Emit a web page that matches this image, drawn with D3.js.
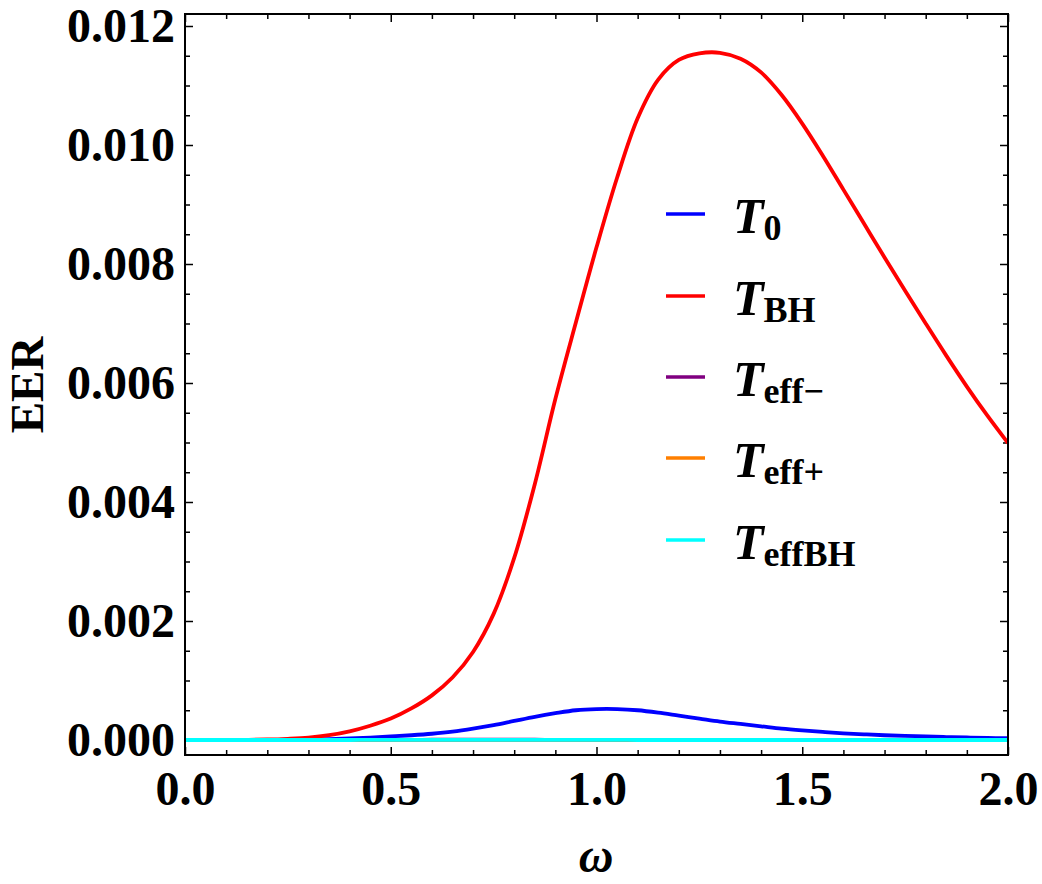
<!DOCTYPE html>
<html>
<head>
<meta charset="utf-8">
<script src="https://cdn.jsdelivr.net/npm/d3@7"></script>
<style>
  body { margin: 0; background: #fff; }
  svg { display: block; }
  .tick text { font-family: "Liberation Serif", "Times New Roman", serif; font-weight: bold; font-size: 48px; fill: #000; }
  .tick line { stroke: #000; stroke-width: 1.5; }
</style>
</head>
<body>
<div id="chart"></div>
<script>
// omega grid and the curves
const omega = [0, 0.05, 0.1, 0.15, 0.2, 0.25, 0.3, 0.35, 0.4, 0.45, 0.5, 0.55, 0.6, 0.65, 0.7, 0.75, 0.8, 0.85, 0.9, 0.95,
  1.0, 1.05, 1.1, 1.15, 1.2, 1.25, 1.3, 1.35, 1.4, 1.45, 1.5, 1.55, 1.6, 1.65, 1.7, 1.75, 1.8, 1.85, 1.9, 1.95, 2.0];

const eer_T0 = [0, 0, 0, 0.000001, 0.000002, 0.000004, 0.000008, 0.000015, 0.000025, 0.00004, 0.00006, 0.00008, 0.000105, 0.00014, 0.00019, 0.00025, 0.00032, 0.00039, 0.00045, 0.0005,
  0.00052, 0.00052, 0.0005, 0.00046, 0.00041, 0.00036, 0.00031, 0.00027, 0.00023, 0.00019, 0.00016, 0.000135, 0.000112, 0.000095, 0.00008, 0.00007, 0.00006, 0.00005, 0.000042, 0.000035, 0.00003];

const eer_TBH = [0, 0, 0.000001, 0.000003, 0.000008, 0.00002, 0.00004, 0.00008, 0.000145, 0.00024, 0.00036, 0.00053, 0.00075, 0.00105, 0.00148, 0.00212, 0.00306, 0.0043, 0.00573, 0.00702,
  0.00828, 0.00945, 0.01045, 0.0111, 0.01143, 0.01154, 0.01155, 0.01145, 0.01122, 0.01084, 0.01036, 0.00982, 0.00925, 0.00868, 0.00811, 0.00755, 0.007, 0.00646, 0.00594, 0.00545, 0.00499];

const eer_Teffm = [0, 0, 0, 0, 0, 0, 0.000001, 0.000001, 0.000002, 0.000002, 0.000003, 0.000003, 0.000004, 0.000004, 0.000004, 0.000004, 0.000004, 0.000004, 0.000003, 0.000003,
  0.000003, 0.000002, 0.000002, 0.000002, 0.000001, 0.000001, 0.000001, 0.000001, 0.000001, 0, 0, 0, 0, 0, 0, 0, 0, 0, 0, 0, 0];

const eer_Teffp = [0, 0, 0, 0, 0, 0, 0, 0.000001, 0.000001, 0.000001, 0.000002, 0.000002, 0.000002, 0.000002, 0.000002, 0.000002, 0.000002, 0.000002, 0.000002, 0.000001,
  0.000001, 0.000001, 0.000001, 0.000001, 0, 0, 0, 0, 0, 0, 0, 0, 0, 0, 0, 0, 0, 0, 0, 0, 0];

const eer_TeffBH = [0, 0, 0, 0, 0, 0, 0, 0, 0, 0.000001, 0.000001, 0.000001, 0.000001, 0.000001, 0.000001, 0.000001, 0.000001, 0.000001, 0.000001, 0.000001,
  0.000001, 0.000001, 0, 0, 0, 0, 0, 0, 0, 0, 0, 0, 0, 0, 0, 0, 0, 0, 0, 0, 0];

const seriesNames = ["T0", "TBH", "Teff-", "Teff+", "TeffBH"];
const seriesColors = ["#0000ff", "#ff0000", "#800080", "#ff7f00", "#00ffff"];
const seriesValues = [eer_T0, eer_TBH, eer_Teffm, eer_Teffp, eer_TeffBH];
// legend labels: main letter + subscript
const legendSubs = ["0", "BH", "eff\u2212", "eff+", "effBH"];

const xMajor = [0, 0.5, 1.0, 1.5, 2.0];
const yMajor = [0, 0.002, 0.004, 0.006, 0.008, 0.010, 0.012];

const W = 1042, H = 884;
const pLeft = 185, pRight = 1008, pTop = 14, pBottom = 755;

const svg = d3.select("#chart").append("svg")
  .attr("width", W)
  .attr("height", H);

const x = d3.scaleLinear().domain([0, 2]).range([pLeft, pRight]);
const y = d3.scaleLinear().domain([0, 0.012]).range([740, 26]);

const xMinor = d3.range(0, 21, 1).map(d => d / 10).filter(d => xMajor.indexOf(d) === -1);
const yMinor = d3.range(0, 25, 1).filter(d => d % 4 !== 0).map(d => d * 0.0005);

// clip for curves
svg.append("clipPath").attr("id", "clip")
  .append("rect")
  .attr("x", pLeft).attr("y", pTop)
  .attr("width", pRight - pLeft).attr("height", pBottom - pTop);

// ticks (all pointing inside)
function addAxis(axisFn, scale, values, size, tx, ty, showLabels) {
  const g = svg.append("g")
    .attr("transform", "translate(" + tx + "," + ty + ")")
    .call(axisFn(scale).tickValues(values).tickSize(size).tickPadding(10)
      .tickFormat(showLabels ? null : ""));
  g.select(".domain").remove();
  return g;
}

const gx = addAxis(d3.axisBottom, x, xMajor, -8, 0, pBottom, true);
gx.selectAll(".tick text").text(d => d3.format(".1f")(d)).attr("dy", "0.71em").attr("y", 16);
addAxis(d3.axisBottom, x, xMinor, -5, 0, pBottom, false);
addAxis(d3.axisTop, x, xMajor, -8, 0, pTop, false);
addAxis(d3.axisTop, x, xMinor, -5, 0, pTop, false);

const gy = addAxis(d3.axisLeft, y, yMajor, -8, pLeft, 0, true);
gy.selectAll(".tick text").text(d => d3.format(".3f")(d));
addAxis(d3.axisLeft, y, yMinor, -5, pLeft, 0, false);
addAxis(d3.axisRight, y, yMajor, -8, pRight, 0, false);
addAxis(d3.axisRight, y, yMinor, -5, pRight, 0, false);

// curves
const line = d3.line()
  .x(d => x(d[0]))
  .y(d => y(d[1]))
  .curve(d3.curveCatmullRom.alpha(0.5));

const curves = svg.append("g").attr("clip-path", "url(#clip)");
seriesValues.forEach((vals, i) => {
  curves.append("path")
    .datum(omega.map((w, j) => [w, vals[j]]))
    .attr("fill", "none")
    .attr("stroke", seriesColors[i])
    .attr("stroke-width", 3.8)
    .attr("d", line);
});

// frame
svg.append("rect")
  .attr("x", pLeft).attr("y", pTop)
  .attr("width", pRight - pLeft).attr("height", pBottom - pTop)
  .attr("fill", "none")
  .attr("stroke", "#000")
  .attr("stroke-width", 2);

// axis labels
svg.append("text")
  .attr("x", 596).attr("y", 872)
  .attr("text-anchor", "middle")
  .style("font-family", "Liberation Serif, serif")
  .style("font-style", "italic")
  .style("font-weight", "bold")
  .style("font-size", "48px")
  .text("\u03c9");

svg.append("text")
  .attr("transform", "translate(43,385) rotate(-90)")
  .attr("text-anchor", "middle")
  .style("font-family", "Liberation Serif, serif")
  .style("font-weight", "bold")
  .style("font-size", "47px")
  .text("EER");

// legend
const legend = svg.append("g");
const legendY = [214, 296, 377, 458, 540];
seriesNames.forEach((name, i) => {
  legend.append("line")
    .attr("x1", 666).attr("x2", 705)
    .attr("y1", legendY[i]).attr("y2", legendY[i])
    .attr("stroke", seriesColors[i])
    .attr("stroke-width", 3.5);
  const t = legend.append("text")
    .attr("x", 733).attr("y", legendY[i] + 19)
    .style("font-family", "Liberation Serif, serif")
    .style("font-weight", "bold")
    .style("font-size", "50px");
  t.append("tspan").style("font-style", "italic").text("T");
  t.append("tspan")
    .attr("dy", 7)
    .style("font-size", "36px")
    .text(legendSubs[i]);
});
</script>
</body>
</html>
